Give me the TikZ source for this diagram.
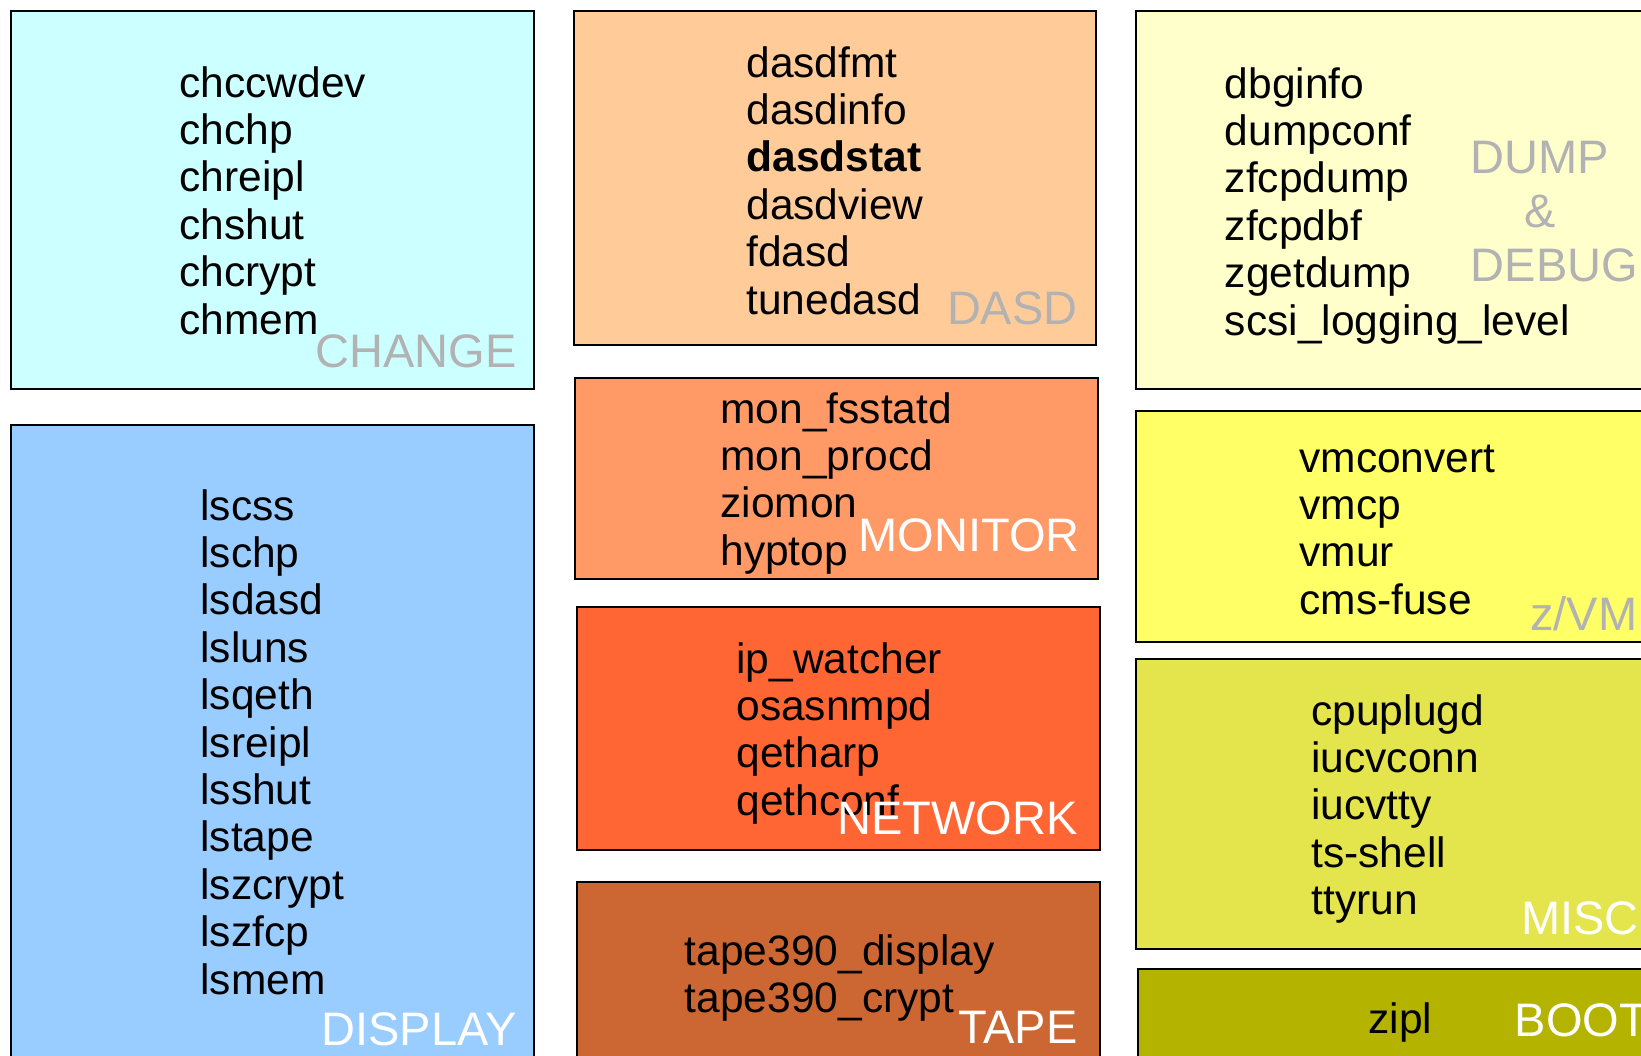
\documentclass[tikz,border=0pt]{standalone}
\usepackage{fontspec}
\setmainfont{Liberation Sans}
\definecolor{cambio}{RGB}{204,255,255}
\definecolor{mostrar}{RGB}{153,204,255}
\definecolor{disco}{RGB}{255,204,153}
\definecolor{monitor}{RGB}{255,153,102}
\definecolor{red}{RGB}{255,102,51}
\definecolor{cinta}{RGB}{204,102,51}
\definecolor{volcado}{RGB}{255,255,204}
\definecolor{zvm}{RGB}{255,255,102}
\definecolor{varios}{RGB}{228,228,76}
\definecolor{arranque}{RGB}{179,179,0}
\definecolor{gris}{RGB}{178,178,178}
\tikzset{
    grupo/.style={draw=black, line width=1pt},
    lista/.style={anchor=base west, align=left, inner sep=0pt, font=\fontsize{21.25}{23.7}\selectfont},
    rotulo/.style={inner sep=0pt, font=\fontsize{23.5}{27}\selectfont},
    rotuloDer/.style={rotulo, anchor=base east},
    rotuloIzq/.style={rotulo, anchor=base west, align=left},
}

\begin{document}
\begin{tikzpicture}[x=0.5pt, y=-0.5pt]
    \useasboundingbox (0,0) rectangle (1641,1055);
    \clip (0,0) rectangle (1641,1055);

    % left column
    \draw[grupo, fill=cambio] (10.5,10.5) rectangle (533.8,389.3);
    \draw[grupo, fill=mostrar] (10.5,425) rectangle (533.8,1075);
    % middle column
    \draw[grupo, fill=disco] (573.5,10.5) rectangle (1095.8,345.4);
    \draw[grupo, fill=monitor] (574.6,377.8) rectangle (1097.9,578.8);
    \draw[grupo, fill=red] (576.7,607) rectangle (1100,849.8);
    \draw[grupo, fill=cinta] (576.7,882.3) rectangle (1100,1075);
    % right column
    \draw[grupo, fill=volcado] (1135.6,10.5) rectangle (1665,389.3);
    \draw[grupo, fill=zvm] (1135.6,411.3) rectangle (1665,641.6);
    \draw[grupo, fill=varios] (1135.6,659.4) rectangle (1665,949.3);
    \draw[grupo, fill=arranque] (1137.6,969.2) rectangle (1665,1075);

    % lists sit on the baseline of their last line
    \node[lista] (chg) at (179,334) {chccwdev\\chchp\\chreipl\\chshut\\chcrypt\\chmem};
    \node[rotuloDer, text=gris] (chgT) at (517,367) {CHANGE};

    \node[lista] (dsp) at (200,994) {lscss\\lschp\\lsdasd\\lsluns\\lsqeth\\lsreipl\\lsshut\\lstape\\lszcrypt\\lszfcp\\lsmem};
    \node[rotuloDer, text=white] (dspT) at (517,1045) {DISPLAY};

    \node[lista] (dasd) at (746,314) {dasdfmt\\dasdinfo\\\textbf{dasdstat}\\dasdview\\fdasd\\tunedasd};
    \node[rotuloDer, text=gris] (dasdT) at (1078,324) {DASD};

    \node[lista] (mon) at (720,565.2) {mon\_fsstatd\\mon\_procd\\ziomon\\hyptop};
    \node[rotuloDer, text=white] (monT) at (1080,551) {MONITOR};

    \node[lista] (net) at (736,815.2) {ip\_watcher\\osasnmpd\\qetharp\\qethconf};
    \node[rotuloDer, text=white] (netT) at (1078,834) {NETWORK};

    \node[lista] (tape) at (684.5,1012.4) {tape390\_display\\tape390\_crypt};
    \node[rotuloDer, text=white] (tapeT) at (1078,1043) {TAPE};

    \node[lista] (dump) at (1224.5,335) {dbginfo\\dumpconf\\zfcpdump\\zfcpdbf\\zgetdump\\scsi\_logging\_level};
    \node[rotuloIzq, text=gris] (dumpT) at (1470.5,281) {DUMP\\\hspace{27pt}\&\\DEBUG};

    \node[lista] (vm) at (1299,614.2) {vmconvert\\vmcp\\vmur\\cms-fuse};
    \node[rotuloIzq, text=gris] (vmT) at (1530,630) {z/VM};

    \node[lista] (misc) at (1311,914.6) {cpuplugd\\iucvconn\\iucvtty\\ts-shell\\ttyrun};
    \node[rotuloIzq, text=white] (miscT) at (1520.7,934.6) {MISC};

    \node[lista] (boot) at (1368,1033) {zipl};
    \node[rotuloIzq, text=white] (bootT) at (1514.4,1036) {BOOT};
\end{tikzpicture}
\end{document}
